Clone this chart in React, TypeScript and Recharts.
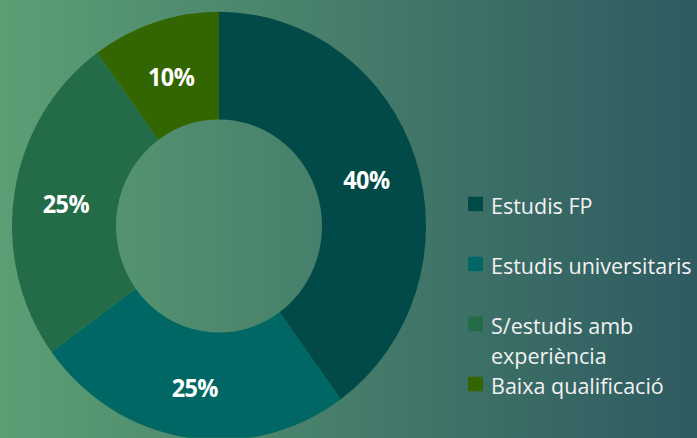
import React from 'react';
import { PieChart, Pie, Cell, Legend } from 'recharts';

const categories = ['Estudis FP', 'Estudis universitaris', 'S/estudis amb experiència', 'Baixa qualificació'];
const values = [40, 25, 25, 10];
const colors = ['#024a47', '#006764', '#246c48', '#336600'];

const data = categories.map((name, i) => ({ name, value: values[i] }));

const W = 697;
const H = 438;
const SY = 1.035;
const CH = H / SY;
const RADIAN = Math.PI / 180;

const renderLabel = (props: any) => {
  const { cx, cy, midAngle, innerRadius, outerRadius, value } = props;
  const r = (innerRadius + outerRadius) / 2;
  const x = cx + r * Math.cos(-midAngle * RADIAN);
  const y = cy + r * Math.sin(-midAngle * RADIAN) + 2.5;
  return (
    <text
      x={x}
      y={y}
      fill="#ffffff"
      textAnchor="middle"
      dominantBaseline="central"
      fontFamily="'Open Sans', sans-serif"
      fontWeight={700}
      fontSize={23.5}
      letterSpacing={-0.6}
    >
      {value}%
    </text>
  );
};

const renderLegend = (props: any) => {
  const payload = [...(props.payload || [])].sort(
    (a: any, b: any) => categories.indexOf(a.value) - categories.indexOf(b.value)
  );
  return (
    <div style={{ fontFamily: "'Open Sans', sans-serif", fontSize: 21.5, lineHeight: '29px', color: '#f2f2f2' }}>
      {payload.map((entry: any, i: number) => (
        <div key={i} style={{ display: 'flex', alignItems: 'flex-start', marginBottom: i === 2 ? 0 : 29 }}>
          <span style={{ width: 15, height: 14.5, background: entry.color, marginTop: 6, marginRight: 8, flex: 'none' }} />
          <span style={{ width: 206 }}>{entry.value}</span>
        </div>
      ))}
    </div>
  );
};

export default function App() {
  return (
    <div
      style={{
        position: 'absolute',
        left: 0,
        top: 0,
        width: W,
        height: H,
        overflow: 'hidden',
        background: 'linear-gradient(to right, #5c9f74 0%, #2e5a61 100%)',
      }}
    >
      <div style={{ transform: `scaleY(${SY})`, transformOrigin: '0 0', width: W, height: CH }}>
        <PieChart width={W} height={CH} margin={{ top: 0, right: 0, bottom: 0, left: 0 }}>
          <Pie
            data={data}
            dataKey="value"
            nameKey="name"
            cx={219}
            cy={226 / SY}
            outerRadius={207}
            innerRadius={103}
            startAngle={90}
            endAngle={-270}
            stroke="none"
            label={renderLabel}
            labelLine={false}
            isAnimationActive={false}
          >
            {data.map((d, i) => (
              <Cell key={d.name} fill={colors[i]} />
            ))}
          </Pie>
          <Legend
            layout="vertical"
            align="right"
            verticalAlign="top"
            content={renderLegend}
            wrapperStyle={{ left: 468, top: 183.5, width: 229 }}
          />
        </PieChart>
      </div>
    </div>
  );
}
